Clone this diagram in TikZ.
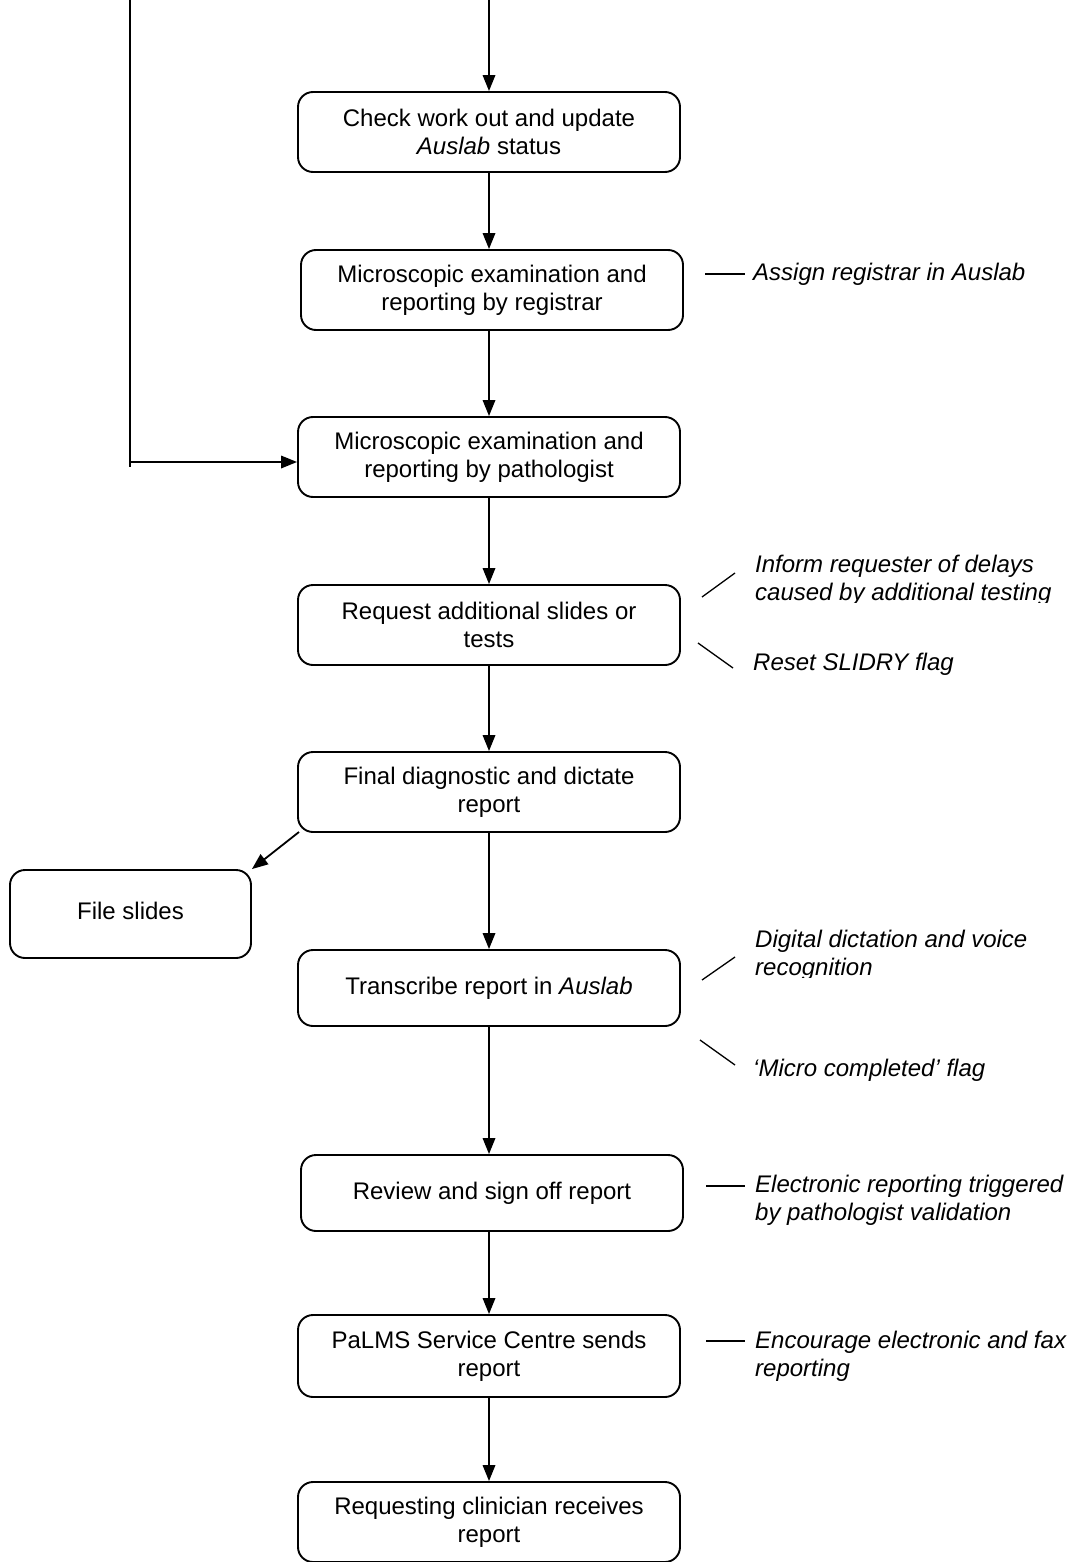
\documentclass[tikz,border=0pt]{standalone}
\usepackage{fontspec}
\setmainfont{Liberation Sans}
\usetikzlibrary{arrows.meta}
\begin{document}
\begin{tikzpicture}[x=1pt,y=-1pt,
  every node/.style={font=\fontsize{24}{28}\selectfont},
  stepbox/.style={draw,line width=1.9pt,rounded corners=15pt,align=center,
    minimum width=382pt,minimum height=80pt,inner sep=0pt},
  note/.style={anchor=west,align=left,inner sep=0pt,
    font=\fontsize{24}{28}\selectfont\itshape},
  arr/.style={line width=1.8pt,-{Triangle[length=16pt,width=12.5pt]}},
  tick/.style={line width=1.3pt}]
\useasboundingbox (0,0) rectangle (1070,1562);

% process boxes
\node[stepbox] (b1) at (489,132) {Check work out and update\\\textit{Auslab} status};
\node[stepbox] (b2) at (492,290) {Microscopic examination and\\reporting by registrar};
\node[stepbox] (b3) at (489,457) {Microscopic examination and\\reporting by pathologist};
\node[stepbox] (b4) at (489,625) {Request additional slides or\\tests};
\node[stepbox] (b5) at (489,792) {Final diagnostic and dictate\\report};
\node[stepbox,minimum width=241pt,minimum height=88pt] (fs) at (130.5,914)
  {\raisebox{7pt}{File slides}};
\node[stepbox,minimum height=76pt] (b6) at (489,988) {Transcribe report in \textit{Auslab}};
\node[stepbox,minimum height=76pt] (b7) at (492,1193) {Review and sign off report};
\node[stepbox,minimum height=82pt] (b8) at (489,1356) {PaLMS Service Centre sends\\report};
\node[stepbox] (b9) at (489,1522) {Requesting clinician receives\\report};

% incoming flows from above
\coordinate (top1) at (489,0);
\coordinate (top2) at (130,0);
\coordinate (bend) at (130,467);
\coordinate (turn) at (130,462);
\draw[arr] (top1) -- (b1.north);
\draw[line width=1.8pt] (top2) -- (bend);
\draw[arr] (turn) -- (turn -| b3.west);

% main sequence
\draw[arr] (b1.south) -- (b1.south |- b2.north);
\draw[arr] (b2.south -| b1.south) -- (b3.north);
\draw[arr] (b3.south) -- (b4.north);
\draw[arr] (b4.south) -- (b5.north);
\draw[arr] (b5.south) -- (b6.north);
\draw[arr] (b6.south) -- (b6.south |- b7.north);
\draw[arr] (b7.south -| b6.south) -- (b8.north);
\draw[arr] (b8.south) -- (b9.north);
\coordinate (fsA) at (299,832);
\draw[arr] (fsA) -- (fs.north east);

% side notes
\coordinate (n2a) at (705,274); \coordinate (n2b) at (745,274);
\draw[tick] (n2a) -- (n2b);
\node[note] (t2) at (753,274) {Assign registrar in Auslab};

\coordinate (n4a) at (702,597); \coordinate (n4b) at (735,573);
\draw[tick] (n4a) -- (n4b);
\begin{scope}
  \clip (740,540) rectangle (1070,602);
  \node[note] (t4a) at (755,580) {Inform requester of delays\\caused by additional testing};
\end{scope}
\coordinate (n4c) at (698,643); \coordinate (n4d) at (733,668);
\draw[tick] (n4c) -- (n4d);
\node[note] (t4b) at (753,664) {Reset SLIDRY flag};

\coordinate (n6a) at (702,980); \coordinate (n6b) at (735,957);
\draw[tick] (n6a) -- (n6b);
\begin{scope}
  \clip (740,920) rectangle (1070,977);
  \node[note] (t6a) at (755,955) {Digital dictation and voice\\recognition};
\end{scope}
\coordinate (n6c) at (700,1040); \coordinate (n6d) at (735,1065);
\draw[tick] (n6c) -- (n6d);
\node[note] (t6b) at (753,1070) {‘Micro completed’ flag};

\coordinate (n7a) at (706,1186); \coordinate (n7b) at (745,1186);
\draw[tick] (n7a) -- (n7b);
\node[note] (t7) at (755,1200) {Electronic reporting triggered\\by pathologist validation};

\coordinate (n8a) at (706,1341); \coordinate (n8b) at (745,1341);
\draw[tick] (n8a) -- (n8b);
\node[note] (t8) at (755,1356) {Encourage electronic and fax\\reporting};
\end{tikzpicture}
\end{document}
